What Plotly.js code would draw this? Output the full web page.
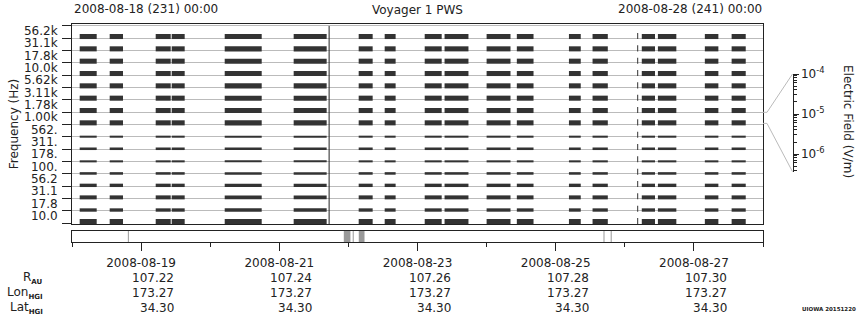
<!DOCTYPE html>
<html><head><meta charset="utf-8">
<script src="https://cdn.plot.ly/plotly-3.0.1.min.js"></script>
<style>html,body{margin:0;padding:0;background:#fff}#c{width:860px;height:320px}</style>
</head><body><div id="c"></div>
<script>
// ---- data ----
const chanLabels = ['10.0','17.8','31.1','56.2','100.','178.','311.','562.','1.00k','1.78k','3.11k','5.62k','10.0k','17.8k','31.1k','56.2k'];
const chanPeakE = [2.6e-6,1.2e-6,1.6e-6,1.2e-6,8.3e-7,6.6e-7,8.3e-7,6.6e-7,2.6e-6,2.6e-6,2.6e-6,2.6e-6,2.6e-6,2.6e-6,2.6e-6,2.6e-6];
// hours since 2008-08-18 00:00
const segStartH = [2.67,13.09,29.07,34.63,53.04,76.99,99.57,108.6,122.5,129.4,144.0,154.5,172.6,180.8,197.9,203.5,219.8,229.1];
const segEndH   = [8.58,17.71,34.28,39.14,65.89,88.45,104.43,112.4,128.4,137.7,152.3,160.3,176.7,186.1,202.5,209.9,224.5,234.0];
const spikeH = [89.3];
const burstH = [196.3];
const burstE = 4.0e-6;
const stripStartH = [19.4,94.4,97.5,99.6,184.6,187.1];
const stripEndH   = [19.75,96.7,97.85,101.6,184.95,187.45];
const tickHours = [24,72,120,168,216];
const tickDates = ['2008-08-19','2008-08-21','2008-08-23','2008-08-25','2008-08-27'];
const rAU = ['107.22','107.24','107.26','107.28','107.30'];
const lonHGI = ['173.27','173.27','173.27','173.27','173.27'];
const latHGI = ['34.30','34.30','34.30','34.30','34.30'];
const minorHours = [0,48,96,144,192,240];
const eTicks = [1e-4,1e-5,1e-6];
const eTickText = ['10<sup>-4</sup>','10<sup>-5</sup>','10<sup>-6</sup>'];

// ---- geometry helpers ----
const W=860,H=320,ML=72,MR=60,MT=24,MB=78;
const PW=W-ML-MR, PH=H-MT-MB;
const px=(x)=>(x-ML)/PW, py=(y)=>(H-MB-y)/PH;
const xDom=[0,px(763)];
const yRange=[-0.057,16.16];
const eLog=[-6.44,-4];
const bandLow=-0.06;
const bandTop=(k,e)=>k+(Math.log10(e)-eLog[0])/(eLog[1]-eLog[0]);

// ---- traces ----
const by=[],bw=[],bb=[],bx=[];
for(let k=0;k<chanLabels.length;k++){
  const top=bandTop(k,chanPeakE[k]);
  for(let s=0;s<segStartH.length;s++){
    by.push((k+bandLow+top)/2); bw.push(top-(k+bandLow));
    bb.push(segStartH[s]); bx.push(segEndH[s]-segStartH[s]);
  }
  for(const h of burstH){
    const t=bandTop(k,burstE);
    by.push((k+bandLow+t)/2); bw.push(t-(k+bandLow)); bb.push(h); bx.push(0.35);
  }
}
const traces=[
 {type:'bar',orientation:'h',x:bx,base:bb,y:by,width:bw,xaxis:'x2',yaxis:'y',
  marker:{color:'#333',line:{width:0}},hoverinfo:'skip'},
 {type:'scatter',mode:'lines',x:[spikeH[0],spikeH[0]],y:[bandLow,16],xaxis:'x2',yaxis:'y',
  line:{color:'#222',width:1},hoverinfo:'skip'},
 {type:'bar',orientation:'h',x:stripEndH.map((e,i)=>e-stripStartH[i]),base:stripStartH,
  y:stripStartH.map(()=>0.5),width:stripStartH.map(()=>1),xaxis:'x',yaxis:'y2',
  marker:{color:'#999',line:{width:0}},hoverinfo:'skip'},
 {type:'scatter',mode:'markers',x:[null],y:[null],xaxis:'x2',yaxis:'y3',hoverinfo:'skip',showlegend:false}
];

const F='DejaVu Sans';
const ann=[];
ann.push({xref:'paper',yref:'paper',x:0,y:py(9),xanchor:'left',yanchor:'middle',showarrow:false,text:'2008-08-18 (231) 00:00',font:{size:12}});
ann.push({xref:'paper',yref:'paper',x:px(417.5),y:py(10),xanchor:'center',yanchor:'middle',showarrow:false,text:'Voyager 1 PWS',font:{size:12}});
ann.push({xref:'paper',yref:'paper',x:px(764),y:py(9),xanchor:'right',yanchor:'middle',showarrow:false,text:'2008-08-28 (241) 00:00',font:{size:12}});
const rows=[[rAU,277.5],[lonHGI,292.5],[latHGI,307.5]];
rows.forEach(([arr,yy])=>{
  arr.forEach((t,i)=>ann.push({xref:'x',yref:'paper',x:tickHours[i],xshift:35,y:py(yy),xanchor:'right',yanchor:'middle',showarrow:false,text:t,font:{size:12}}));
});
const sub=(s)=>'<sub><span style="font-size:7px"><b>'+s+'</b></span></sub>';
const rowLab=[['R'+sub('AU'),277.5],['Lon'+sub('HGI'),292.5],['Lat'+sub('HGI'),307.5]];
rowLab.forEach(([t,yy])=>ann.push({xref:'paper',yref:'paper',x:px(45),y:py(yy),xanchor:'right',yanchor:'middle',showarrow:false,text:t,font:{size:12}}));
ann.push({xref:'paper',yref:'paper',x:px(848),y:py(121),xanchor:'center',yanchor:'middle',textangle:90,showarrow:false,text:'Electric Field (V/m)',font:{size:12}});
ann.push({xref:'paper',yref:'paper',x:px(858),y:py(309),xanchor:'right',yanchor:'middle',showarrow:false,text:'<b>UIOWA 20151220</b>',font:{size:5.5}});

// connector lines from band 8..9 to the field scale
const mainDom=[py(224),1];
const band2paper=(v)=>mainDom[0]+(v-yRange[0])/(yRange[1]-yRange[0])*(mainDom[1]-mainDom[0]);
const scaleDom=[py(171.7),py(74)];
const sx=px(792.5), ex=px(763);
const shapes=[
 {type:'path',xref:'paper',yref:'paper',path:`M${ex},${band2paper(9)} L${px(767)},${band2paper(9)} L${sx},${scaleDom[1]}`,line:{color:'#bbb',width:1}},
 {type:'path',xref:'paper',yref:'paper',path:`M${ex},${band2paper(8.1)} L${px(767)},${band2paper(8.1)} L${sx},${scaleDom[0]}`,line:{color:'#bbb',width:1}}
];

const minorE=[];
for(let d=-7;d<=-5;d++) for(let m=2;m<=9;m++){const v=m*Math.pow(10,d); if(Math.log10(v)>=eLog[0]&&Math.log10(v)<=eLog[1]) minorE.push(v);}

const axLine={showline:true,linecolor:'#222',linewidth:1,zeroline:false,showgrid:false};
const layout={
 width:W,height:H,margin:{l:ML,r:MR,t:MT,b:MB},
 paper_bgcolor:'#fff',plot_bgcolor:'rgba(0,0,0,0)',
 font:{family:F,size:12,color:'#222'},showlegend:false,barmode:'overlay',
 xaxis:Object.assign({},axLine,{domain:xDom,anchor:'y2',range:[0,240],mirror:true,
   tickvals:tickHours,ticktext:tickDates,ticks:'outside',ticklen:8,tickcolor:'#222',ticklabelstandoff:2,
   minor:{tickvals:minorHours,ticks:'outside',ticklen:4,tickcolor:'#222'},tickfont:{size:12}}),
 xaxis2:Object.assign({},axLine,{domain:xDom,anchor:'y',range:[0,240],matches:'x',mirror:true,showticklabels:false,ticks:''}),
 yaxis:Object.assign({},axLine,{domain:mainDom,anchor:'x2',range:yRange,mirror:true,
   tickvals:chanLabels.map((_,k)=>k+0.62),ticktext:chanLabels,ticks:'outside',ticklen:11,tickcolor:'rgba(0,0,0,0)',
   minor:{tickvals:chanLabels.map((_,k)=>k).concat([16]),ticks:'outside',ticklen:9,tickcolor:'#222',showgrid:true,gridcolor:'#bbb',gridwidth:1},
   title:{text:'Frequency (Hz)',font:{size:12},standoff:2},tickfont:{size:12}}),
 yaxis2:Object.assign({},axLine,{domain:[0,py(231)],anchor:'x',range:[0,1],mirror:true,showticklabels:false,ticks:''}),
 yaxis3:Object.assign({},axLine,{domain:scaleDom,anchor:'free',position:sx,side:'right',type:'log',range:eLog,
   tickvals:eTicks,ticktext:eTickText,ticks:'outside',ticklen:5,tickcolor:'#222',
   minor:{tickvals:minorE,ticks:'outside',ticklen:3,tickcolor:'#222'},tickfont:{size:12}}),
 annotations:ann,shapes:shapes
};
Plotly.newPlot('c',traces,layout,{staticPlot:true,displayModeBar:false});
</script></body></html>
